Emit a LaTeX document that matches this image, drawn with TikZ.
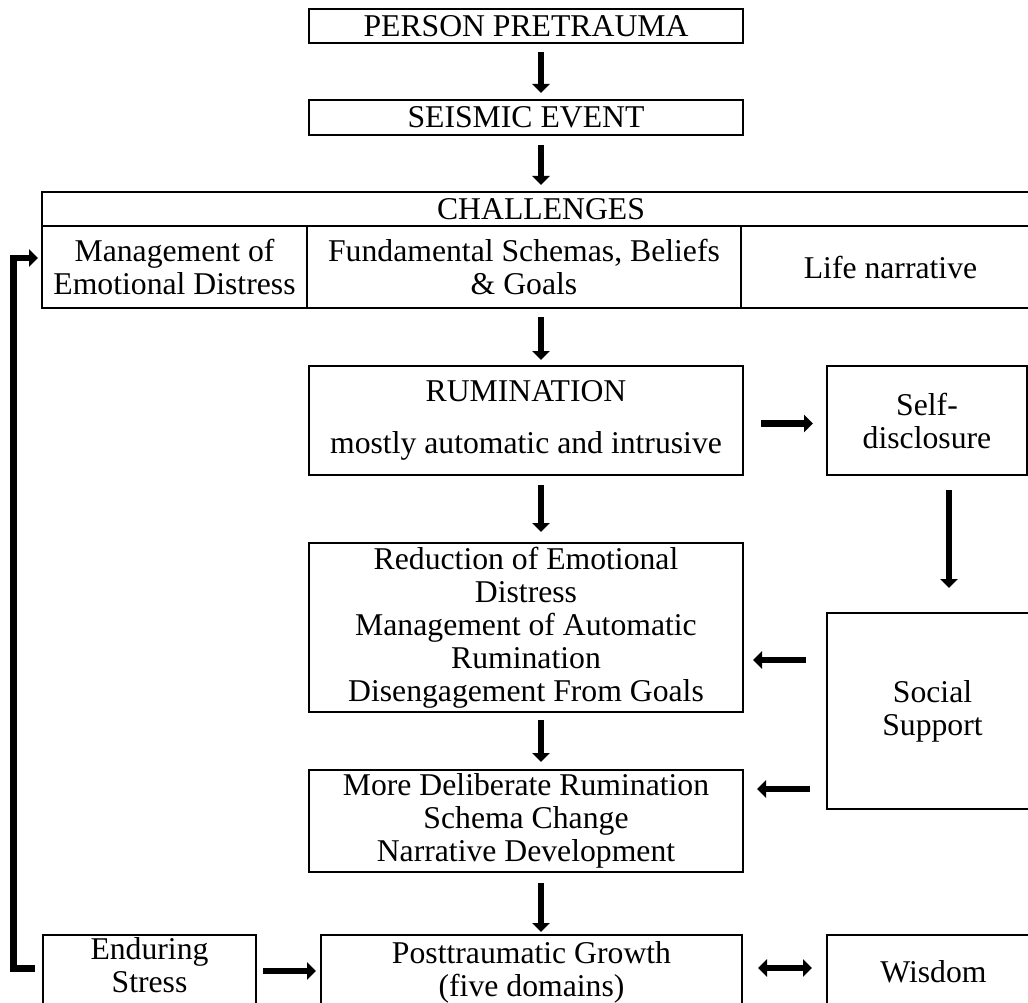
\documentclass[tikz,border=0pt]{standalone}
\usepackage{fontspec}
\setmainfont{Liberation Serif}
\usetikzlibrary{arrows.meta, positioning}

\begin{document}
\begin{tikzpicture}[x=1pt, y=-1pt, font=\fontsize{31.7}{33}\selectfont,
	bx/.style={draw, line width=2.6pt, outer sep=0pt, inner sep=2pt, align=center, minimum width=#1},
	bx/.default=434pt,
	a/.style={line width=6.5pt, -{Triangle[width=17pt, length=9pt]}},
	aa/.style={line width=6.5pt, {Triangle[width=17pt, length=9pt]}-{Triangle[width=17pt, length=9pt]}}]
	\useasboundingbox (0,0) rectangle (1028,1003);
	% main column
	\node[bx, minimum height=34pt] (pre) at (526,26) {PERSON PRETRAUMA};
	\node[bx, minimum height=35pt] (seis) at (526,117.5) {SEISMIC EVENT};
	% challenges table
	\node[bx=998pt, minimum height=34pt] (chal) at (541,209) {CHALLENGES};
	\node[bx=265pt, minimum height=82pt, anchor=north west] (mgmt) at (chal.south west) {Management of\\Emotional Distress};
	\node[bx=434pt, minimum height=82pt, right=0pt of mgmt] (schem) {Fundamental Schemas, Beliefs\\\& Goals};
	\node[bx=299pt, minimum height=82pt, right=0pt of schem] (life) {Life narrative};
	\node[bx, minimum height=109pt] (rum) at (526,420.5) {RUMINATION\\[19pt]mostly automatic and intrusive};
	\node[bx=200pt, minimum height=109pt] (self) at (927,420.5) {Self-\\disclosure};
	\node[bx, minimum height=169pt] (red) at (526,627.5) {Reduction of Emotional\\Distress\\Management of Automatic\\Rumination\\Disengagement From Goals};
	\node[bx=211pt, minimum height=196pt] (soc) at (932.5,711) {Social\\Support};
	\node[bx, minimum height=102pt] (more) at (526,821) {More Deliberate Rumination\\Schema Change\\Narrative Development};
	% bottom row
	\node[bx=213pt, minimum height=74pt, text depth=14pt] (stress) at (149.5,972) {Enduring\\Stress};
	\node[bx=421pt, minimum height=74pt] (ptg) at (531.5,972) {Posttraumatic Growth\\(five domains)};
	\node[bx=213pt, minimum height=74pt] (wis) at (933.5,972) {Wisdom};

	\draw[a, shorten <=9pt, shorten >=7pt] ([xshift=15pt]pre.south) -- ([xshift=15pt]seis.north);
	\draw[a, shorten <=10pt, shorten >=7pt] ([xshift=15pt]seis.south) -- (chal.north);
	\draw[a, shorten <=9pt, shorten >=6pt] ([xshift=17pt]schem.south) -- ([xshift=15pt]rum.north);
	\draw[a, shorten <=10pt, shorten >=11pt] ([xshift=15pt]rum.south) -- ([xshift=15pt]red.north);
	\draw[a, shorten <=8pt, shorten >=8pt] ([xshift=15pt]red.south) -- ([xshift=15pt]more.north);
	\draw[a, shorten <=11pt, shorten >=3pt] ([xshift=15pt]more.south) -- ([xshift=9.5pt]ptg.north);
	\draw[a, shorten <=18pt, shorten >=14pt] ([yshift=-3pt]rum.east) -- ([yshift=-3pt]self.west);
	\draw[a, shorten <=15pt, shorten >=25pt] ([xshift=22pt]self.south) -- ([xshift=16.5pt]soc.north);
	\draw[a, shorten <=21pt, shorten >=10pt] ([yshift=51pt]soc.west) -- ([yshift=-32.5pt]red.east);
	\draw[a, shorten <=17pt, shorten >=14pt] ([yshift=-78pt]soc.west) -- ([yshift=32pt]more.east);
	\draw[a, shorten <=7pt, shorten >=5pt] ([yshift=1pt]stress.east) -- ([yshift=1pt]ptg.west);
	\draw[aa, shorten <=16pt, shorten >=15pt] ([yshift=4pt]ptg.east) -- ([yshift=4pt]wis.west);
	% feedback loop
	\draw[a] ([xshift=-8pt, yshift=3.5pt]stress.west) -- ++(-21.5,0) |- ([xshift=-4pt, yshift=9pt]mgmt.west);
\end{tikzpicture}
\end{document}
